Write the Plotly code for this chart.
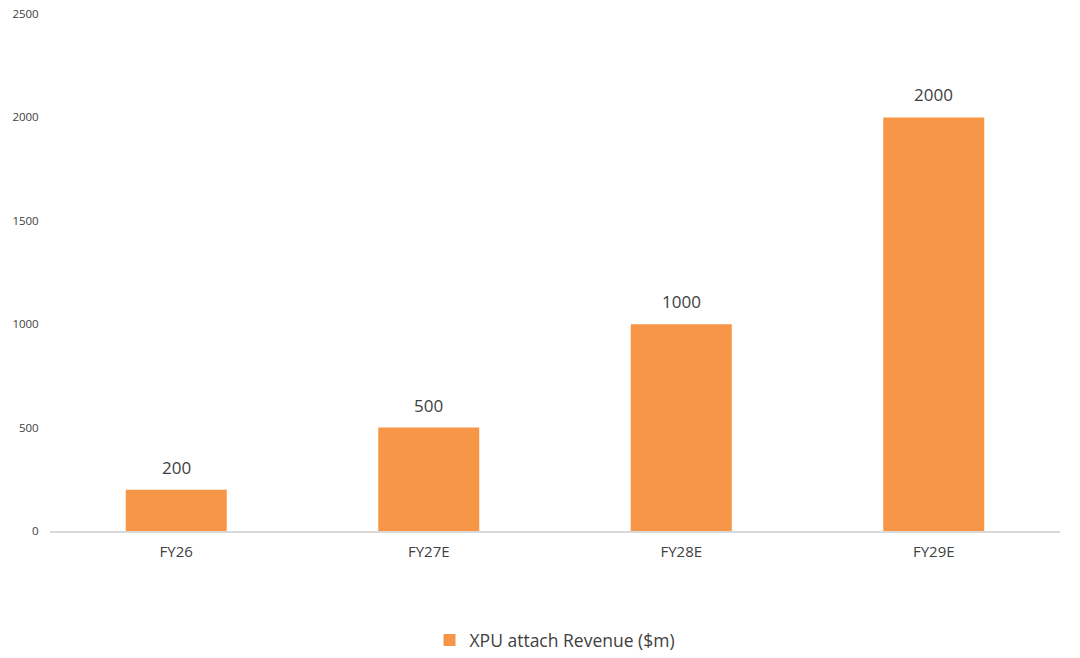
import plotly.graph_objects as go

categories = ["FY26", "FY27E", "FY28E", "FY29E"]
revenue = [200, 500, 1000, 2000]
series_name = "XPU attach Revenue ($m)"
y_ticks = [0, 500, 1000, 1500, 2000, 2500]

fig = go.Figure()
fig.add_trace(go.Bar(
    x=categories, y=revenue, name=series_name,
    marker=dict(color="#F79646", line=dict(width=0)),
    showlegend=True,
))

for c, v in zip(categories, revenue):
    fig.add_annotation(x=c, y=v, text=str(v), showarrow=False, yanchor="bottom",
                       yshift=9, font=dict(size=17, color="#404040", family="Open Sans"))

fig.update_layout(
    width=1080, height=658,
    margin=dict(l=50, r=20, t=14, b=127, autoexpand=False),
    paper_bgcolor="white", plot_bgcolor="white",
    font=dict(family="Open Sans", color="#595959"),
    bargap=0.6,
    showlegend=True,
    legend=dict(orientation="h", x=0.5, xanchor="center", y=-0.211, yanchor="middle",
                font=dict(size=17.5, color="#404040")),
    xaxis=dict(showgrid=False, showline=True, linecolor="#D9D9D9", linewidth=1.5,
               ticks="", tickfont=dict(size=15, color="#404040"), ticklabelstandoff=6),
    yaxis=dict(range=[0, 2500], tickvals=y_ticks, showgrid=False, zeroline=False,
               showline=False, ticks="outside", ticklen=8, tickcolor="white",
               tickfont=dict(size=11.5, color="#404040")),
)

fig.write_html("out.html", config={"displayModeBar": False},
               post_script="document.body.style.margin='0';document.body.style.overflow='hidden';")
